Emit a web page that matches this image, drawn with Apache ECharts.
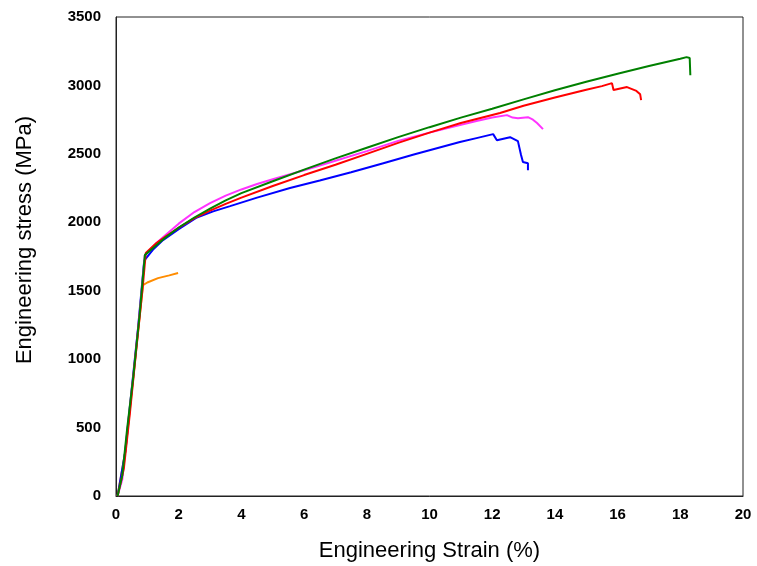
<!DOCTYPE html>
<html><head><meta charset="utf-8">
<script src="https://cdn.jsdelivr.net/npm/echarts@6/dist/echarts.min.js"></script>
<style>html,body{margin:0;padding:0;background:#fff}#c{width:757px;height:566px}</style>
</head><body><div id="c"></div>
<script>
// Engineering strain (%) and engineering stress (MPa) for each specimen
const orangeStrain = [0.05,0.3,0.55,0.75,0.86,1.0,1.34,1.7,1.98];
const orangeStress = [0,330,860,1300,1541,1560,1592,1612,1629];

const blueStrain = [0.05,0.3,0.5,0.7,0.9,1.2,1.5,2.0,2.58,3.1,3.64,4.5,5.55,6.5,7.5,8.5,9.5,10.97,11.5,12.03,12.15,12.57,12.82,12.92,12.98,13.14,13.14];
const blueStress = [0,330,780,1220,1720,1805,1870,1950,2035,2080,2118,2180,2250,2305,2365,2430,2495,2586,2615,2644,2600,2622,2593,2491,2440,2432,2381];

const magentaStrain = [0.05,0.2,0.4,0.6,0.8,0.92,1.3,1.6,2.0,2.5,3.0,3.5,4.0,4.5,5.0,6.0,7.0,8.0,9.0,10.0,10.97,11.5,12.0,12.47,12.65,12.82,13.14,13.3,13.43,13.62];
const magentaStress = [0,120,560,980,1450,1760,1850,1910,1990,2075,2140,2195,2240,2280,2315,2380,2450,2520,2595,2655,2710,2740,2765,2783,2765,2761,2768,2750,2725,2681];

const redStrain = [0.05,0.25,0.45,0.65,0.85,0.95,1.3,1.6,2.0,2.5,3.0,3.5,4.0,5.0,6.0,7.0,8.0,9.0,10.0,11.0,12.25,13.0,14.0,15.0,15.5,15.82,15.87,16.3,16.6,16.72,16.75];
const redStress = [0,200,620,1080,1520,1775,1850,1900,1960,2030,2085,2135,2180,2265,2345,2420,2500,2580,2655,2725,2798,2852,2912,2968,2995,3017,2966,2988,2960,2935,2893];

const greenStrain = [0.05,0.2,0.35,0.55,0.75,0.92,1.2,1.5,2.0,2.5,3.0,3.5,4.0,5.0,6.0,7.0,8.0,9.0,10.0,11.0,12.0,13.0,14.0,15.0,16.0,17.0,18.0,18.2,18.3,18.32];
const greenStress = [0,150,480,870,1320,1760,1815,1875,1962,2035,2100,2160,2213,2300,2385,2467,2545,2622,2695,2765,2830,2898,2965,3027,3085,3142,3195,3207,3200,3075];

const zip = (a, b) => a.map((v, i) => [v, b[i]]);

const specimens = [
  {name: 'orange', color: '#ff8c00', x: orangeStrain, y: orangeStress},
  {name: 'blue', color: '#0000ff', x: blueStrain, y: blueStress},
  {name: 'magenta', color: '#ff33ff', x: magentaStrain, y: magentaStress},
  {name: 'red', color: '#ff0000', x: redStrain, y: redStress},
  {name: 'green', color: '#008000', x: greenStrain, y: greenStress}
];

const chart = echarts.init(document.getElementById('c'), null, {renderer: 'canvas'});
chart.setOption({
  animation: false,
  backgroundColor: '#fff',
  grid: {left: 116, top: 17, right: 14, bottom: 70, show: true, borderColor: '#222', borderWidth: 1, backgroundColor: 'transparent', containLabel: false, outerBoundsMode: 'none'},
  xAxis: {
    type: 'value', min: 0, max: 20, interval: 2,
    name: 'Engineering Strain (%)', nameLocation: 'middle', nameGap: 44,
    nameTextStyle: {fontFamily: "'Liberation Sans', Arial, sans-serif", fontSize: 22, color: '#000'},
    axisLine: {show: true, lineStyle: {color: '#222', width: 1}},
    axisTick: {show: false},
    splitLine: {show: false},
    axisLabel: {margin: 11, fontFamily: "'Liberation Sans', Arial, sans-serif", fontWeight: 'bold', fontSize: 15, color: '#000'}
  },
  yAxis: {
    type: 'value', min: 0, max: 3500, interval: 500,
    axisLine: {show: true, lineStyle: {color: '#222', width: 1}},
    axisTick: {show: false},
    splitLine: {show: false},
    axisLabel: {margin: 15, fontFamily: "'Liberation Sans', Arial, sans-serif", fontWeight: 'bold', fontSize: 15, color: '#000', formatter: v => String(v)}
  },
  graphic: [{
    type: 'text', x: 25, y: 240, rotation: Math.PI / 2,
    style: {text: 'Engineering stress (MPa)', font: "22px 'Liberation Sans', Arial, sans-serif", fill: '#000', textAlign: 'center', textVerticalAlign: 'middle'}
  }],
  series: specimens.map(s => ({
    name: s.name, type: 'line', data: zip(s.x, s.y),
    showSymbol: false, symbol: 'none', smooth: false,
    lineStyle: {color: s.color, width: 2}, itemStyle: {color: s.color}
  }))
});
</script>
</body></html>
